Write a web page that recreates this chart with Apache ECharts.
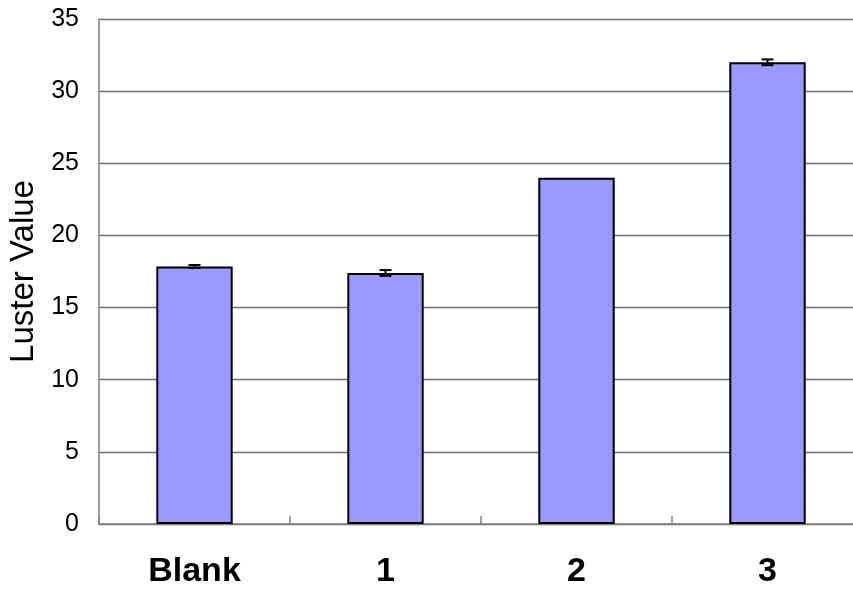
<!DOCTYPE html>
<html><head><meta charset="utf-8">
<script src="https://cdn.jsdelivr.net/npm/echarts@6/dist/echarts.min.js"></script>
<style>html,body{margin:0;padding:0;background:#fff;overflow:hidden}#c{width:853px;height:593px}</style>
</head><body><div id="c"></div>
<script>
var categories = ['Blank', '1', '2', '3'];
var values = [17.85, 17.4, 24.0, 32.0];
var errors = [0.1, 0.2, 0, 0.2];
var yTicks = [0, 5, 10, 15, 20, 25, 30, 35];

var chart = echarts.init(document.getElementById('c'));
var errData = categories.map(function (c, i) { return [i, values[i] - errors[i], values[i] + errors[i]]; });
chart.setOption({
  animation: false,
  grid: { left: 99, top: 19, height: 505, width: 764, containLabel: false, outerBoundsMode: 'none' },
  xAxis: {
    type: 'category', data: categories,
    axisLine: { lineStyle: { color: '#808080', width: 1.5 } },
    axisTick: { show: true, inside: true, length: 8, lineStyle: { color: '#808080', width: 1.5 } },
    axisLabel: { fontFamily: 'Liberation Sans', fontWeight: 'bold', fontSize: 34, color: '#000', margin: 31 }
  },
  yAxis: {
    type: 'value', min: yTicks[0], max: yTicks[yTicks.length - 1], interval: 5,
    name: 'Luster Value', nameLocation: 'middle', nameGap: 57, nameRotate: 90,
    nameTextStyle: { fontFamily: 'Liberation Sans', fontSize: 33, color: '#000' },
    axisLine: { show: true, lineStyle: { color: '#808080', width: 1.5 } },
    axisTick: { show: false },
    axisLabel: { fontFamily: 'Liberation Sans', fontSize: 25, color: '#000', margin: 20 },
    splitLine: { lineStyle: { color: '#6e6e6e', width: 1.3 } }
  },
  series: [{
    type: 'bar', data: values, barWidth: '40%',
    itemStyle: { color: '#9999FF', borderColor: '#000', borderWidth: 2 }
  }, {
    type: 'custom', data: errData, z: 10,
    renderItem: function (params, api) {
      var x = api.value(0);
      var lo = api.coord([x, api.value(1)]);
      var hi = api.coord([x, api.value(2)]);
      if (Math.abs(hi[1] - lo[1]) < 0.5) return null;
      var w = 6;
      var st = { stroke: '#000', lineWidth: 2 };
      return { type: 'group', children: [
        { type: 'line', shape: { x1: lo[0], y1: lo[1], x2: hi[0], y2: hi[1] }, style: st },
        { type: 'line', shape: { x1: lo[0] - w, y1: lo[1], x2: lo[0] + w, y2: lo[1] }, style: st },
        { type: 'line', shape: { x1: hi[0] - w, y1: hi[1], x2: hi[0] + w, y2: hi[1] }, style: st }
      ]};
    }
  }]
});
</script></body></html>
